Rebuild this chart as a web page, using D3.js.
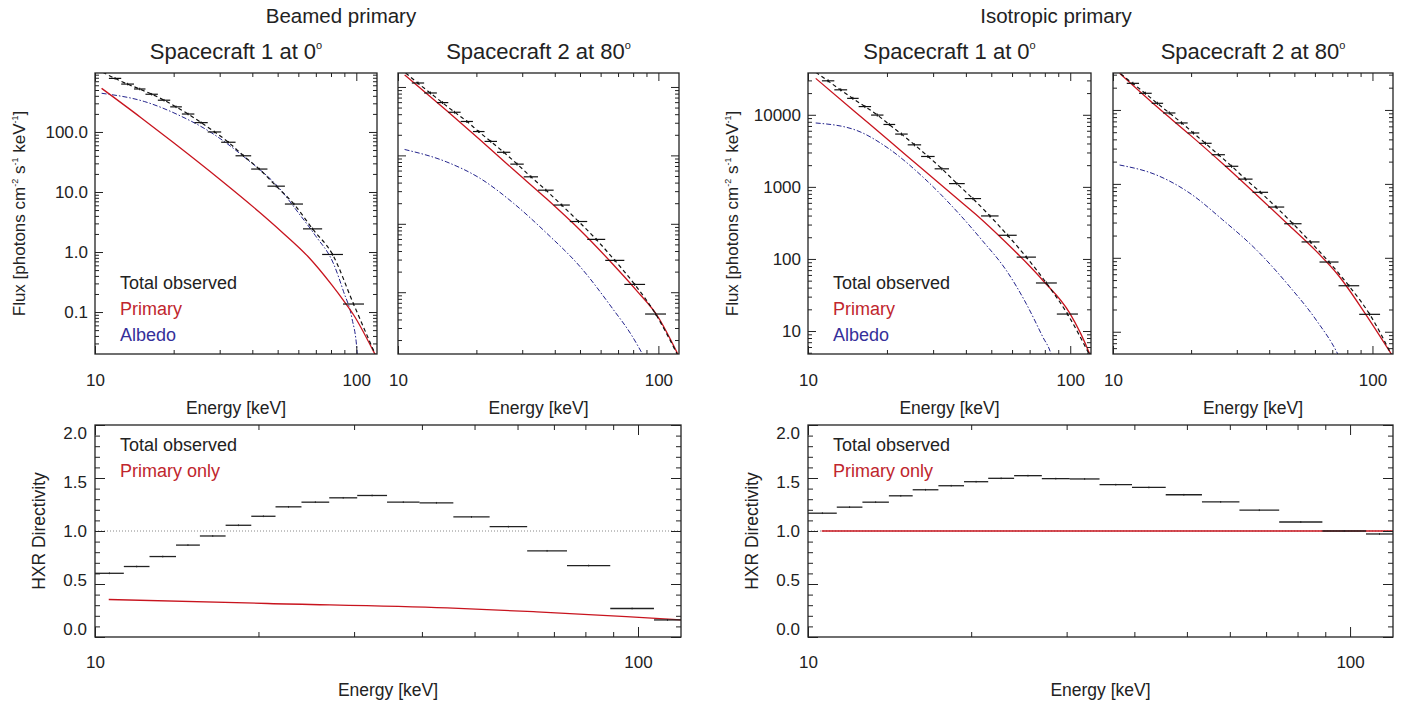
<!DOCTYPE html>
<html lang="en">
<head>
<meta charset="utf-8">
<title>Beamed vs isotropic primary: HXR spectra and directivity</title>
<script src="https://d3js.org/d3.v7.min.js"></script>
<style>
body { margin: 0; background: #fff; }
text { font-family: "Liberation Sans", Arial, sans-serif; fill: #222; }
.tick line { stroke: #222; }
</style>
</head>
<body>
<div id="chart"></div>
<script>

// energy bin edges [keV], shared by all panels
var binEdges = [10, 11.3, 12.6, 14.1, 15.6, 17.4, 19.4, 21.5, 24, 27, 30.4, 34.5, 39.6, 45.7, 53.3, 62.5, 74, 88.9, 107, 120];

// observed flux per bin (null = off the plot)
var beam1Obs = [null, 781, 628, 520, 425, 338, 262, 199, 143, 100, 67.4, 40.1, 24.1, 12.5, 6.3, 2.43, 0.91, 0.136, null];
var beam2Obs = [null, 1143, 817, 591, 427, 313, 223, 160, 111, 74.5, 48.6, 31, 18.8, 10.8, 5.92, 2.92, 1.30, 0.48, null];
var iso1Obs  = [null, 29600, 22200, 16900, 13000, 9910, 7340, 5400, 3830, 2640, 1780, 1110, 688, 395, 213, 106, 46.4, 17.2, null];
var iso2Obs  = [null, 22900, 16800, 12300, 9100, 6670, 4880, 3540, 2480, 1730, 1160, 769, 486, 289, 164, 87.7, 41.9, 17.2, null];

// model total (dashed)
var totE     = [10.7, 11.9, 13.3, 14.8, 16.5, 18.4, 20.4, 22.7, 25.5, 28.7, 32.4, 37.0, 42.5, 49.4, 57.7, 68.0, 81.1, 97.6, 118];
var beam1Tot = [990, 781, 628, 520, 425, 338, 262, 199, 143, 100, 67.4, 40.1, 24.1, 12.5, 6.3, 2.43, 0.91, 0.136, 0.02];
var beam2Tot = [1600, 1143, 817, 591, 427, 313, 223, 160, 111, 74.5, 48.6, 31, 18.8, 10.8, 5.92, 2.92, 1.30, 0.48, 0.125];
var iso1Tot  = [39000, 29600, 22200, 16900, 13000, 9910, 7340, 5400, 3830, 2640, 1780, 1110, 688, 395, 213, 106, 46.4, 17.2, 4.8];
var iso2Tot  = [30800, 22900, 16800, 12300, 9100, 6670, 4880, 3540, 2480, 1730, 1160, 769, 486, 289, 164, 87.7, 41.9, 17.2, 5.0];

// primary (red)
var beam1PrimE = [10.6, 15, 20, 30, 42.5, 52, 65.6, 80.7, 89.4, 97.7, 116.5, 120];
var beam1Prim  = [533, 173, 66, 16.3, 4.64, 2.14, 0.824, 0.28, 0.155, 0.0893, 0.0219, 0.017];
var beam2PrimE = [10.6, 15.4, 20.7, 27.8, 37.3, 50.1, 67.3, 82.8, 98.8, 120];
var beam2Prim  = [1500, 448, 168, 61.6, 23, 8.05, 2.5, 1.04, 0.46, 0.115];
var iso1PrimE  = [10.7, 15.1, 20.3, 27.3, 37.7, 43.6, 56.9, 67.8, 78.5, 99.3, 118.6, 120];
var iso1Prim   = [32000, 11040, 4430, 1770, 653, 417, 169, 89.8, 50.7, 18.0, 4.8, 4.3];
var iso2PrimE  = [10.6, 14.7, 19.8, 26.5, 35.7, 48, 60.7, 73.6, 94.6, 120];
var iso2Prim   = [31400, 11200, 4600, 1870, 715, 270, 123, 59, 16.8, 4.6];

// albedo (blue)
var beam1AlbE = [10.6, 15.5, 20.8, 28, 37.6, 50.4, 60.1, 69.7, 81.8, 89.4, 96.2, 100.7, 101.5];
var beam1Alb  = [441, 320, 193, 96, 37, 11.9, 4.47, 1.88, 0.64, 0.218, 0.079, 0.0217, 0.012];
var beam2AlbE = [10.6, 15.4, 20.7, 27.8, 37.3, 50.1, 67.3, 78.1, 88.5];
var beam2Alb  = [122, 80, 46, 19.9, 7.24, 2.35, 0.55, 0.25, 0.11];
var iso1AlbE  = [10.7, 15.1, 20.3, 27.3, 37.7, 46.2, 56.9, 67.8, 78.5, 84.5, 86];
var iso1Alb   = [7700, 6190, 3400, 1390, 422, 180, 70.3, 24.3, 8.34, 4.79, 3.8];
var iso2AlbE  = [10.6, 14.7, 19.8, 26.5, 35.7, 48, 60.7, 73.6, 75];
var iso2Alb   = [1800, 1320, 746, 325, 128, 40.6, 14.4, 4.94, 4.3];

// HXR directivity per bin
var beamDir = [0.601, 0.665, 0.759, 0.867, 0.953, 1.054, 1.139, 1.228, 1.272, 1.313, 1.335, 1.272, 1.266, 1.133, 1.041, 0.813, 0.674, 0.269, 0.161];
var isoDir  = [1.168, 1.225, 1.272, 1.332, 1.389, 1.427, 1.465, 1.497, 1.522, 1.494, 1.491, 1.437, 1.411, 1.342, 1.275, 1.196, 1.085, 1.0, 0.972];
var beamPrimDirE = [10.6, 20.8, 44.5, 65.1, 95.2, 120];
var beamPrimDir  = [0.354, 0.316, 0.275, 0.237, 0.193, 0.161];
var isoPrimDirE  = [10.6, 120];
var isoPrimDir   = [1.0, 1.0];

var RED = "#c8141e", BLUE = "#23238c";

var svg = d3.select("#chart").append("svg")
  .attr("width", 1403).attr("height", 704);

// minor tick positions 2..9 x 10^n inside a log domain
function logMinor(dom) {
  var out = [];
  for (var n = Math.floor(Math.log10(dom[0])); n <= Math.ceil(Math.log10(dom[1])); n++)
    for (var k = 2; k <= 9; k++) {
      var v = k * Math.pow(10, n);
      if (v > dom[0] && v < dom[1]) out.push(v);
    }
  return out;
}
function logMajor(dom) {
  var out = [];
  for (var n = Math.floor(Math.log10(dom[0])); n <= Math.ceil(Math.log10(dom[1])); n++) {
    var v = Math.pow(10, n);
    if (v >= dom[0] && v <= dom[1]) out.push(v);
  }
  return out;
}

function clean(g) {
  g.select(".domain").remove();
  g.selectAll("text").attr("font-size", 17).attr("font-family", null).attr("fill", "#222");
  g.attr("font-family", null);
}

// draws the frame and inward ticks on all four sides
function frame(g, x, y, o) {
  var x0 = x.range()[0], x1 = x.range()[1], y0 = y.range()[1], y1 = y.range()[0];
  g.append("g").attr("transform", "translate(0," + y1 + ")")
    .call(d3.axisBottom(x).tickValues([10, 100]).tickSizeInner(-o.xMaj).tickSizeOuter(0)
      .tickPadding(o.xPad).tickFormat(d3.format("d"))).call(clean);
  g.append("g").attr("transform", "translate(0," + y1 + ")")
    .call(d3.axisBottom(x).tickValues(o.xMinor).tickSizeInner(-o.xMin).tickSizeOuter(0).tickFormat("")).call(clean);
  g.append("g").attr("transform", "translate(0," + y0 + ")")
    .call(d3.axisTop(x).tickValues([10, 100]).tickSizeInner(-o.xMaj).tickSizeOuter(0).tickFormat("")).call(clean);
  g.append("g").attr("transform", "translate(0," + y0 + ")")
    .call(d3.axisTop(x).tickValues(o.xMinor).tickSizeInner(-o.xMin).tickSizeOuter(0).tickFormat("")).call(clean);

  var left = g.append("g").attr("transform", "translate(" + x0 + ",0)")
    .call(d3.axisLeft(y).tickValues(o.yMajor).tickSizeInner(-o.yMaj).tickSizeOuter(0)
      .tickPadding(o.yPad).tickFormat(o.yFmt || "")).call(clean);
  if (o.yShift) left.selectAll("text").attr("y", function(d) { return o.yShift(d); });
  g.append("g").attr("transform", "translate(" + x0 + ",0)")
    .call(d3.axisLeft(y).tickValues(o.yMinor).tickSizeInner(-o.yMin).tickSizeOuter(0).tickFormat("")).call(clean);
  g.append("g").attr("transform", "translate(" + x1 + ",0)")
    .call(d3.axisRight(y).tickValues(o.yMajor).tickSizeInner(-o.yMaj).tickSizeOuter(0).tickFormat("")).call(clean);
  g.append("g").attr("transform", "translate(" + x1 + ",0)")
    .call(d3.axisRight(y).tickValues(o.yMinor).tickSizeInner(-o.yMin).tickSizeOuter(0).tickFormat("")).call(clean);

  g.append("rect").attr("x", x0).attr("y", y0).attr("width", x1 - x0).attr("height", y1 - y0)
    .attr("fill", "none").attr("stroke", "#222").attr("stroke-width", 1.3);
}

function clip(id, x0, y0, x1, y1) {
  svg.append("clipPath").attr("id", id).append("rect")
    .attr("x", x0).attr("y", y0).attr("width", x1 - x0).attr("height", y1 - y0);
}

function pts(E, V) { return E.map(function(e, i) { return [e, V[i]]; }); }

// ---------- top row: spectra ----------
var topY0 = 73, topY1 = 354;
var topPanels = [
  {x0: 95,   x1: 377,  yDom: [0.02, 960],   yFmt: d3.format(".1f"), obs: beam1Obs, tot: beam1Tot,
   primE: beam1PrimE, prim: beam1Prim, albE: beam1AlbE, alb: beam1Alb, legend: true, sc: "Spacecraft 1 at 0"},
  {x0: 398,  x1: 679,  yDom: [0.125, 1600], yFmt: null, obs: beam2Obs, tot: beam2Tot,
   primE: beam2PrimE, prim: beam2Prim, albE: beam2AlbE, alb: beam2Alb, legend: false, sc: "Spacecraft 2 at 80"},
  {x0: 808,  x1: 1091, yDom: [4.8, 38000],  yFmt: d3.format("d"), obs: iso1Obs, tot: iso1Tot,
   primE: iso1PrimE, prim: iso1Prim, albE: iso1AlbE, alb: iso1Alb, legend: true, sc: "Spacecraft 1 at 0"},
  {x0: 1113, x1: 1393, yDom: [5, 31600],    yFmt: null, obs: iso2Obs, tot: iso2Tot,
   primE: iso2PrimE, prim: iso2Prim, albE: iso2AlbE, alb: iso2Alb, legend: false, sc: "Spacecraft 2 at 80"}
];

topPanels.forEach(function(p, pi) {
  var x = d3.scaleLog().domain([10, 120]).range([p.x0, p.x1]);
  var y = d3.scaleLog().domain(p.yDom).range([topY1, topY0]);
  var g = svg.append("g");
  var cid = "clipTop" + pi;
  clip(cid, p.x0, topY0, p.x1, topY1);

  var line = d3.line().x(function(d) { return x(d[0]); }).y(function(d) { return y(d[1]); })
    .curve(d3.curveMonotoneX);
  var plot = g.append("g").attr("clip-path", "url(#" + cid + ")");

  plot.append("path").attr("d", line(pts(p.albE, p.alb)))
    .attr("fill", "none").attr("stroke", BLUE).attr("stroke-width", 1)
    .attr("stroke-dasharray", "5,2,1.5,2");
  plot.append("path").attr("d", line(pts(p.primE, p.prim)))
    .attr("fill", "none").attr("stroke", RED).attr("stroke-width", 1.3);
  plot.append("path").attr("d", line(pts(totE, p.tot)))
    .attr("fill", "none").attr("stroke", "#111").attr("stroke-width", 1.2)
    .attr("stroke-dasharray", "4,3");

  var bins = p.obs.map(function(v, i) { return {lo: binEdges[i], hi: binEdges[i + 1], v: v}; })
    .filter(function(d) { return d.v != null; });
  var cross = plot.selectAll(".obs").data(bins).enter().append("g").attr("class", "obs");
  cross.append("line")
    .attr("x1", function(d) { return x(d.lo); }).attr("x2", function(d) { return x(d.hi); })
    .attr("y1", function(d) { return y(d.v); }).attr("y2", function(d) { return y(d.v); })
    .attr("stroke", "#111").attr("stroke-width", 1.2);
  cross.append("line")
    .attr("x1", function(d) { return x(Math.sqrt(d.lo * d.hi)); })
    .attr("x2", function(d) { return x(Math.sqrt(d.lo * d.hi)); })
    .attr("y1", function(d) { return y(d.v * 1.05); }).attr("y2", function(d) { return y(d.v / 1.05); })
    .attr("stroke", "#111").attr("stroke-width", 1);

  frame(g, x, y, {
    xMaj: 8, xMin: 4, xPad: 20, xMinor: [20, 30, 40, 50, 60, 70, 80, 90],
    yMaj: 8, yMin: 4, yPad: 7, yMajor: logMajor(p.yDom), yMinor: logMinor(p.yDom), yFmt: p.yFmt
  });

  var cx = (p.x0 + p.x1) / 2;
  g.append("text").attr("x", cx).attr("y", 414).attr("text-anchor", "middle")
    .attr("font-size", 17.5).text("Energy [keV]");
  var st = g.append("text").attr("x", cx).attr("y", 59).attr("text-anchor", "middle").attr("font-size", 22);
  st.append("tspan").text(p.sc);
  st.append("tspan").attr("dy", -10).attr("font-size", 11).text("o");

  if (p.legend) {
    var lx = p.x0 + 25;
    g.append("text").attr("x", lx).attr("y", 289).attr("font-size", 18).text("Total observed");
    g.append("text").attr("x", lx).attr("y", 315).attr("font-size", 18).style("fill", "#c0262d").text("Primary");
    g.append("text").attr("x", lx).attr("y", 341).attr("font-size", 18).style("fill", "#35309a").text("Albedo");

    var ft = g.append("text").attr("transform", "translate(" + (p.x0 - 70) + "," + ((topY0 + topY1) / 2) + ") rotate(-90)")
      .attr("text-anchor", "middle").attr("font-size", 17);
    ft.append("tspan").text("Flux [photons cm");
    ft.append("tspan").attr("dy", -7).attr("font-size", 9).text("-2");
    ft.append("tspan").attr("dy", 7).text(" s");
    ft.append("tspan").attr("dy", -7).attr("font-size", 9).text("-1");
    ft.append("tspan").attr("dy", 7).text(" keV");
    ft.append("tspan").attr("dy", -7).attr("font-size", 9).text("-1");
    ft.append("tspan").attr("dy", 7).text("]");
  }
});

// ---------- bottom row: directivity ----------
var botY0 = 425, botY1 = 637;
var botPanels = [
  {x0: 95,  x1: 681,  dir: beamDir, primE: beamPrimDirE, prim: beamPrimDir},
  {x0: 808, x1: 1393, dir: isoDir,  primE: isoPrimDirE,  prim: isoPrimDir}
];

botPanels.forEach(function(p, pi) {
  var x = d3.scaleLog().domain([10, 120]).range([p.x0, p.x1]);
  var y = d3.scaleLinear().domain([0, 2]).range([botY1, botY0]);
  var g = svg.append("g");
  var cid = "clipBot" + pi;
  clip(cid, p.x0, botY0, p.x1, botY1);
  var plot = g.append("g").attr("clip-path", "url(#" + cid + ")");

  plot.append("line").attr("x1", p.x0).attr("x2", p.x1).attr("y1", y(1)).attr("y2", y(1))
    .attr("stroke", "#888").attr("stroke-width", 1).attr("stroke-dasharray", "1,2");

  var line = d3.line().x(function(d) { return x(d[0]); }).y(function(d) { return y(d[1]); })
    .curve(d3.curveMonotoneX);
  plot.append("path").attr("d", line(pts(p.primE, p.prim)))
    .attr("fill", "none").attr("stroke", RED).attr("stroke-width", 1.3);

  var bins = p.dir.map(function(v, i) { return {lo: binEdges[i], hi: binEdges[i + 1], v: v}; });
  var bar = plot.selectAll(".dir").data(bins).enter().append("g").attr("class", "dir");
  bar.append("line")
    .attr("x1", function(d) { return x(d.lo); }).attr("x2", function(d) { return x(d.hi); })
    .attr("y1", function(d) { return y(d.v); }).attr("y2", function(d) { return y(d.v); })
    .attr("stroke", "#222").attr("stroke-width", 1.3);
  bar.append("line")
    .attr("x1", function(d) { return x(Math.sqrt(d.lo * d.hi)); })
    .attr("x2", function(d) { return x(Math.sqrt(d.lo * d.hi)); })
    .attr("y1", function(d) { return y(d.v + 0.008); }).attr("y2", function(d) { return y(d.v - 0.008); })
    .attr("stroke", "#222").attr("stroke-width", 1);

  var yMid = y(1);
  frame(g, x, y, {
    xMaj: 10, xMin: 5, xPad: 19, xMinor: [20, 30, 40, 50, 60, 70, 80, 90],
    yMaj: 10, yMin: 5, yPad: 8,
    yMajor: [0, 0.5, 1, 1.5, 2], yMinor: d3.range(1, 20).map(function(i) { return i / 10; }).filter(function(v) { return v % 0.5 !== 0; }),
    yFmt: d3.format(".1f"),
    yShift: function(d) { return (yMid - y(d)) * 0.075; }
  });

  g.append("text").attr("x", (p.x0 + p.x1) / 2).attr("y", 696).attr("text-anchor", "middle")
    .attr("font-size", 17.5).text("Energy [keV]");
  g.append("text").attr("x", p.x0 + 25).attr("y", 451).attr("font-size", 18).text("Total observed");
  g.append("text").attr("x", p.x0 + 25).attr("y", 477).attr("font-size", 18).style("fill", "#c0262d").text("Primary only");
  g.append("text").attr("transform", "translate(" + (p.x0 - 50) + "," + ((botY0 + botY1) / 2) + ") rotate(-90)")
    .attr("text-anchor", "middle").attr("font-size", 17.5).text("HXR Directivity");
});

// overall titles
svg.append("text").attr("x", 341).attr("y", 23).attr("text-anchor", "middle").attr("font-size", 20.5).text("Beamed primary");
svg.append("text").attr("x", 1056).attr("y", 23).attr("text-anchor", "middle").attr("font-size", 20.5).text("Isotropic primary");

</script>
</body>
</html>
